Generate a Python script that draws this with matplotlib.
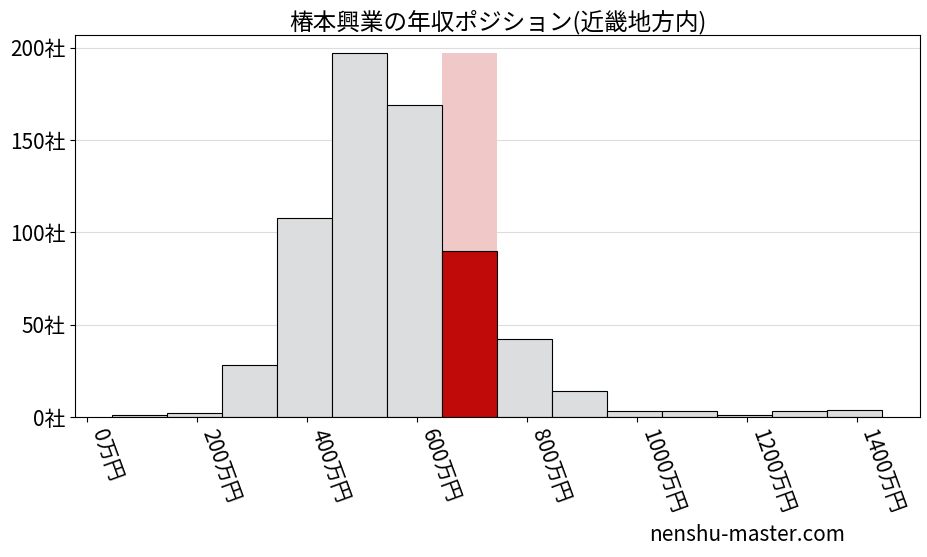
import numpy as np
import matplotlib.pyplot as plt

plt.rcParams['font.family'] = ['Noto Sans CJK JP', 'DejaVu Sans']

edges = [45, 145, 245, 345, 445, 545, 645, 745, 845, 945, 1045, 1145, 1245, 1345]
counts = [1, 2, 28, 108, 197, 169, 90, 42, 14, 3, 3, 1, 3, 4]
highlight = 6
xticks = [0, 200, 400, 600, 800, 1000, 1200, 1400]
yticks = [0, 50, 100, 150, 200]

fig = plt.figure(figsize=(9.27, 5.57), dpi=100)
ax = fig.add_axes([75/927, 1-417/557, 845/927, 382/557])

ax.bar(edges[highlight], max(counts), width=100, align='edge', color='#f0c8c8', zorder=1)
colors = ['#dcdddf'] * len(counts)
colors[highlight] = '#c00a0a'
ax.bar(edges, counts, width=100, align='edge', color=colors, edgecolor='black', linewidth=0.8, zorder=2)

ax.set_xlim(-22, 1515)
ax.set_ylim(0, 207)
ax.set_yticks(yticks)
ax.set_yticklabels([f'{v}社' for v in yticks], fontsize=15)
ax.set_xticks(xticks)
ax.set_xticklabels([f'{v}万円' for v in xticks], fontsize=15, rotation=-70, ha='left', va='top')
ax.grid(axis='y', color='#dddddd', linewidth=0.8, zorder=0)
ax.set_axisbelow(True)
ax.set_title('椿本興業の年収ポジション(近畿地方内)', fontsize=17, pad=4)
fig.text(0.70, 0.02, 'nenshu-master.com', fontsize=15, ha='left', va='bottom')

fig.savefig('out.png', dpi=100)
